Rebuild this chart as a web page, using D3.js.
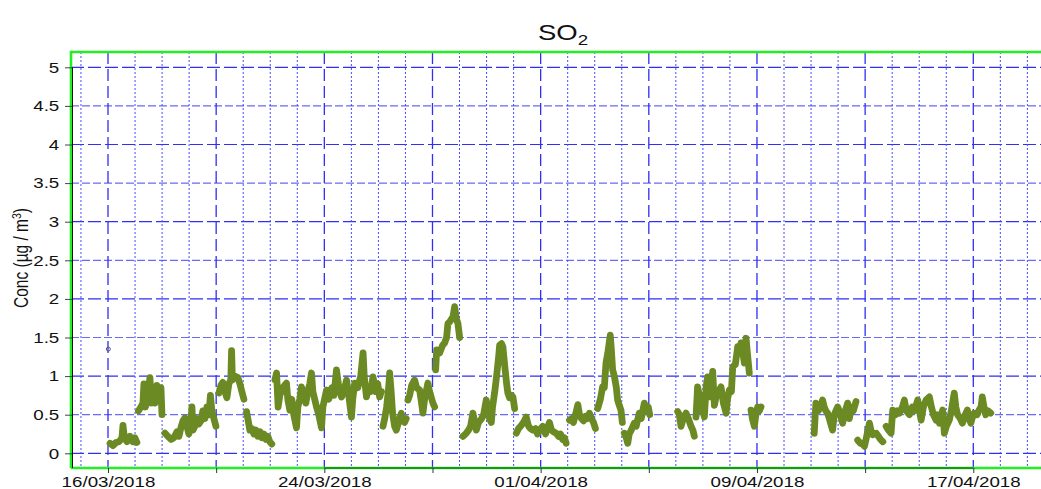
<!DOCTYPE html>
<html><head><meta charset="utf-8">
<script src="https://cdn.jsdelivr.net/npm/d3@7"></script>
<style>
body{margin:0;background:#fff}
svg{display:block;font-family:"Liberation Sans",Arial,Helvetica,sans-serif}
</style>
</head><body>
<svg id="chart" width="1041" height="489"></svg>
<script>
// ---------------- data ----------------
const titleMain = "SO";
const titleSub = "2";
const yLabelMain = "Conc (µg / m";
const yLabelSup = "3";
const yLabelEnd = ")";
const yTickValues = [0, 0.5, 1, 1.5, 2, 2.5, 3, 3.5, 4, 4.5, 5];
const xTickDates = ["16/03/2018","20/03/2018","24/03/2018","28/03/2018","01/04/2018","05/04/2018","09/04/2018","13/04/2018","17/04/2018"];
const xLabelDates = ["16/03/2018","24/03/2018","01/04/2018","09/04/2018","17/04/2018"];
const seriesStart = "16/03/2018";
// hours since 16/03/2018 00:00 ; null = gap in record
const hours = [
 1.8,4.4,7.1,9.8,12.4,13.3,14.6,16.8,19.5,22.2,23.9,25.7, null,
 27.0,29.3,31.0,31.9,33.2,35.5,37.2,38.6,39.9,41.7,43.4,45.2,47.0,47.9, null,
 50.5,53.2,55.9,58.5,61.2,63.0,64.7,66.5,68.3,70.0,71.8,73.6,74.5,75.4,77.1,78.9,80.7,82.5,84.2,86.0,87.8,89.6,90.9,92.2,94.0,95.8, null,
 98.4,100.2,101.9,103.7,105.5,107.3,109.0,109.7,110.4,112.6,115.3,117.1,118.8,120.6, null,
 123.0,124.1,125.9,127.7,129.5,131.2,133.0,134.8,136.5,138.3,140.1,141.9,143.6,145.4, null,
 148.1,149.6,151.0,152.5,155.1,158.4,159.6,161.4,163.1,164.9,167.3,168.5,170.2,171.7,173.8,175.6,177.3,179.1,180.6,181.8,185.1,187.1,189.5,190.7,194.0,196.0,198.7,200.5,202.8,204.9,207.3,209.3,211.7,213.7,216.1,217.2,219.0,221.7,224.3,226.4,227.4,229.4,231.4,233.2,235.2,237.6,239.4,241.1,242.6, null,
 244.1,245.6,247.3,249.1,250.0,251.3,252.6,254.4,255.9,257.9,260.3,261.5,263.2,264.7, null,
 266.2,267.7,269.5,272.1,273.9,276.6,278.3,279.5,281.0,283.9,285.4,288.4,289.9, null,
 290.8,291.7,294.3,297.0,298.8,300.5,301.7,303.2,306.2,307.7,309.0,310.6,312.1, null,
 315.0,317.4,320.0,321.8,323.9,325.4,326.9,328.9,331.6,333.4,335.7,336.9,338.7,340.2,341.3,343.1,344.9,346.7,347.6,349.3,350.5,352.0,353.8,354.9,356.4,358.2,359.4,360.9, null,
 362.4,364.4,366.2,368.8,371.2,373.3,375.0,377.1,379.4,381.2,383.0,385.9,388.3,390.1,391.8,393.6,395.4,397.8,399.8,401.6,403.4,405.1,406.6, null,
 409.6,411.4,413.1,414.9,417.0,418.5,420.2,422.0,423.8,425.6,427.3,429.1,430.9,432.6, null,
 434.6,437.0,439.0,440.5,442.0,443.6,445.0,445.8,446.7,447.9,449.4,451.2,452.3,453.8,455.3,456.5, null,
 458.2,460.0,461.3,462.6,464.4,467.1,468.8,471.5,473.3,476.0,477.7,479.5,480.8, null,
 505.6,507.1,508.6,510.6,513.0,515.1,517.5,519.1,520.4, null,
 521.9,523.3,524.8,526.4,527.5,529.3,530.8,532.2,533.7,535.5,536.7,538.2,540.0,541.8,544.1,546.2,548.6,549.8,551.5,553.3,554.5,556.8,558.9,560.4,561.9,563.0,564.8,566.3,567.5,569.2, null,
 570.7,571.9,573.7,575.0,576.6,578.1,579.6, null,
 626.8,628.3,630.4,632.2,634.2,635.7,637.1,638.7,640.2,641.5,643.1,644.6,647.6,649.1,652.0,654.4,656.5,658.0,659.8,661.5,663.9, null,
 665.4,667.8,669.6,671.4,673.1,674.5,675.8,677.2,678.8,681.8,683.8,685.6,687.7, null,
 690.6,692.7,695.0,696.5,698.9,700.6,702.4,705.1,706.8,708.6,711.3,713.9,715.7,718.7,720.2,721.7,723.7,726.1,729.0,730.8,732.6,735.0,736.1,737.9,739.2,740.8,742.3,744.1,746.7,748.5,751.1,752.5,754.1,756.5,758.3,760.8,762.8,764.3,765.8,766.9,768.7,771.3,773.1,774.9,776.0,777.5,779.0,781.1,783.5
];
const conc = [
 .13,.10,.14,.15,.20,.36,.20,.15,.22,.15,.20,.14, null,
 .55,.60,.65,.90,.60,.75,.98,.65,.78,.65,.88,.70,.85,.50, null,
 .26,.22,.18,.20,.28,.22,.33,.42,.46,.35,.25,.40,.60,.30,.35,.45,.38,.42,.55,.45,.60,.50,.75,.55,.45,.35, null,
 .78,.88,.92,.80,.72,.90,.95,1.33,.95,1.00,.98,.90,.80,.70, null,
 .54,.45,.30,.32,.25,.30,.22,.28,.20,.25,.18,.22,.15,.12, null,
 .95,1.04,.60,.75,.85,.91,.70,.56,.70,.50,.33,.60,.70,.86,.75,.65,.80,.90,1.04,.80,.60,.50,.33,.60,.82,.70,.85,.75,1.08,.85,.73,.80,.95,.75,.47,.70,.91,.85,1.00,1.30,1.00,.73,.85,.80,.99,.80,.90,.73,.80, null,
 .35,.45,.60,.85,1.04,.80,.52,.35,.30,.40,.52,.42,.40,.45, null,
 .69,.75,.88,.95,.85,.82,.65,.52,.70,.91,.80,.65,.60, null,
 1.08,1.34,1.30,1.40,1.43,1.50,1.68,1.70,1.77,1.90,1.75,1.68,1.50, null,
 .22,.25,.30,.35,.52,.40,.30,.40,.45,.50,.69,.55,.45,.40,.60,.78,1.00,1.25,1.40,1.42,1.38,1.15,.90,.78,.72,.75,.73,.58, null,
 .26,.32,.35,.40,.47,.35,.32,.30,.32,.25,.30,.35,.25,.33,.40,.30,.28,.26,.22,.25,.18,.20,.13, null,
 .43,.45,.40,.50,.63,.50,.45,.42,.48,.45,.52,.45,.40,.32, null,
 .58,.70,.86,.85,1.17,1.30,1.45,1.53,1.35,1.08,1.00,.85,.69,.62,.56,.40, null,
 .26,.20,.13,.25,.30,.39,.35,.52,.45,.65,.55,.60,.50, null,
 .54,.50,.35,.45,.52,.45,.35,.30,.22, null,
 .47,.86,.75,.55,.60,.47,.85,.99,.73,.90,1.06,.62,.75,.80,.86,.65,.52,.70,.82,.80,1.12,1.15,1.38,1.30,1.43,1.35,1.17,1.49,1.30,1.04, null,
 .56,.45,.35,.50,.60,.55,.60, null,
 .26,.65,.55,.60,.69,.60,.55,.52,.45,.38,.30,.50,.60,.55,.39,.55,.65,.45,.60,.55,.67, null,
 .17,.13,.12,.09,.20,.30,.39,.30,.24,.26,.22,.18,.15, null,
 .35,.30,.26,.56,.50,.55,.52,.60,.69,.55,.50,.60,.55,.69,.55,.43,.60,.69,.73,.60,.50,.43,.50,.39,.45,.56,.26,.35,.43,.55,.78,.60,.50,.45,.39,.50,.56,.45,.39,.45,.52,.50,.56,.60,.73,.60,.50,.55,.52
];
// isolated single reading drawn as a marker
const outlierHours = [0.3];
const outlierConc = [1.35];

// ---------------- chart ----------------
const parse = d3.timeParse("%d/%m/%Y");
const fmt = d3.timeFormat("%d/%m/%Y");
const t0 = parse(seriesStart);
const toDate = h => new Date(t0.getTime() + h * 3600e3);

const W = 1041, H = 489;
const plotL = 71, plotR = 1041, plotT = 52, plotB = 468;

const x = d3.scaleTime()
  .domain([parse(xTickDates[0]), parse(xTickDates[xTickDates.length - 1])])
  .range([108, 973.3]);
const y = d3.scaleLinear().domain([0, 5]).range([453.3, 67.3]);

const svg = d3.select("#chart");
svg.append("rect").attr("width", W).attr("height", H).attr("fill", "#fff");

// grid: horizontal
const gGrid = svg.append("g");
yTickValues.forEach(v => {
  const major = Number.isInteger(v);
  gGrid.append("line")
    .attr("x1", plotL).attr("x2", plotR)
    .attr("y1", y(v)).attr("y2", y(v))
    .attr("stroke", major ? "#2f2ff5" : "#6a6af8")
    .attr("stroke-width", 1.2)
    .attr("stroke-dasharray", major ? "13,4" : "8,3");
});
// grid: vertical, one per day
const days = d3.timeDay.range(x.invert(plotL + 1), x.invert(plotR));
days.forEach(d => {
  const k = d3.timeDay.count(t0, d);
  const major = k % 4 === 0;
  gGrid.append("line")
    .attr("x1", x(d)).attr("x2", x(d))
    .attr("y1", plotT).attr("y2", plotB)
    .attr("stroke", major ? "#2f2ff5" : "#4a4af6")
    .attr("stroke-width", major ? 1.3 : 1)
    .attr("stroke-dasharray", major ? "12,5" : "2,2");
});

// data line
const pts = hours.map((h, i) => ({h, v: conc[i]}));
const line = d3.line()
  .defined(d => d.h !== null && d.v !== null)
  .x(d => x(toDate(d.h)))
  .y(d => y(d.v));
svg.append("path")
  .datum(pts)
  .attr("d", line)
  .attr("fill", "none")
  .attr("stroke", "#6b8a23")
  .attr("stroke-width", 6.8)
  .attr("stroke-linejoin", "round")
  .attr("stroke-linecap", "round");

svg.selectAll("circle.out")
  .data(outlierHours.map((h, i) => ({h, v: outlierConc[i]})))
  .join("circle")
  .attr("cx", d => x(toDate(d.h)))
  .attr("cy", d => y(d.v))
  .attr("r", 2)
  .attr("fill", "none")
  .attr("stroke", "#555577")
  .attr("stroke-width", 1);

// green frame
const frame = svg.append("g").attr("stroke", "#22ee22").attr("stroke-width", 2.6).attr("fill", "none");
frame.append("line").attr("x1", plotL).attr("x2", plotR).attr("y1", plotT).attr("y2", plotT);
frame.append("line").attr("x1", plotL).attr("x2", plotL).attr("y1", plotT - 1.3).attr("y2", plotB);
frame.append("line").attr("x1", plotL).attr("x2", plotR).attr("y1", plotB).attr("y2", plotB);

// black axis lines
svg.append("line").attr("x1", 72.5).attr("x2", 72.5).attr("y1", y(5)).attr("y2", plotB)
  .attr("stroke", "#111").attr("stroke-width", 1);
svg.append("line").attr("x1", x(parse(xTickDates[2]))).attr("x2", x(parse(xTickDates[8])))
  .attr("y1", plotB).attr("y2", plotB).attr("stroke", "#1a3a1a").attr("stroke-width", 1);

// y axis
const yAxis = svg.append("g").attr("transform", "translate(72,0)")
  .call(d3.axisLeft(y).tickValues(yTickValues).tickSize(7).tickFormat(d => String(d)));
yAxis.select(".domain").remove();
yAxis.selectAll(".tick line").attr("stroke", "#444");
yAxis.selectAll(".tick text")
  .attr("x", -10.2)
  .attr("transform", "scale(1.25,1)")
  .attr("fill", "#111")
  .style("font-size", "15px")
  .style("font-family", "'Liberation Sans', Arial, sans-serif");

// x axis
const labelSet = new Set(xLabelDates);
const xAxis = svg.append("g").attr("transform", `translate(0,${plotB})`)
  .call(d3.axisBottom(x).tickValues(xTickDates.map(parse)).tickSize(5)
    .tickFormat(d => labelSet.has(fmt(d)) ? fmt(d) : ""));
xAxis.select(".domain").remove();
xAxis.selectAll(".tick line").attr("stroke", "#333");
xAxis.selectAll(".tick text")
  .attr("y", 8)
  .attr("transform", "scale(1.25,1)")
  .attr("fill", "#111")
  .style("font-size", "15px")
  .style("font-family", "'Liberation Sans', Arial, sans-serif");

// title
const tt = svg.append("text")
  .attr("transform", "translate(563,40) scale(1.25,1)")
  .attr("text-anchor", "middle")
  .attr("fill", "#111")
  .style("font-size", "22px");
tt.append("tspan").text(titleMain);
tt.append("tspan").attr("dy", 5).style("font-size", "15px").text(titleSub);

// y label
const yl = svg.append("text")
  .attr("transform", "translate(28,258) rotate(-90) scale(1,1.25)")
  .attr("text-anchor", "middle")
  .attr("fill", "#111")
  .style("font-size", "15.5px");
yl.append("tspan").text(yLabelMain);
yl.append("tspan").attr("dy", -6).style("font-size", "10.5px").text(yLabelSup);
yl.append("tspan").attr("dy", 6).text(yLabelEnd);
</script>
</body></html>
